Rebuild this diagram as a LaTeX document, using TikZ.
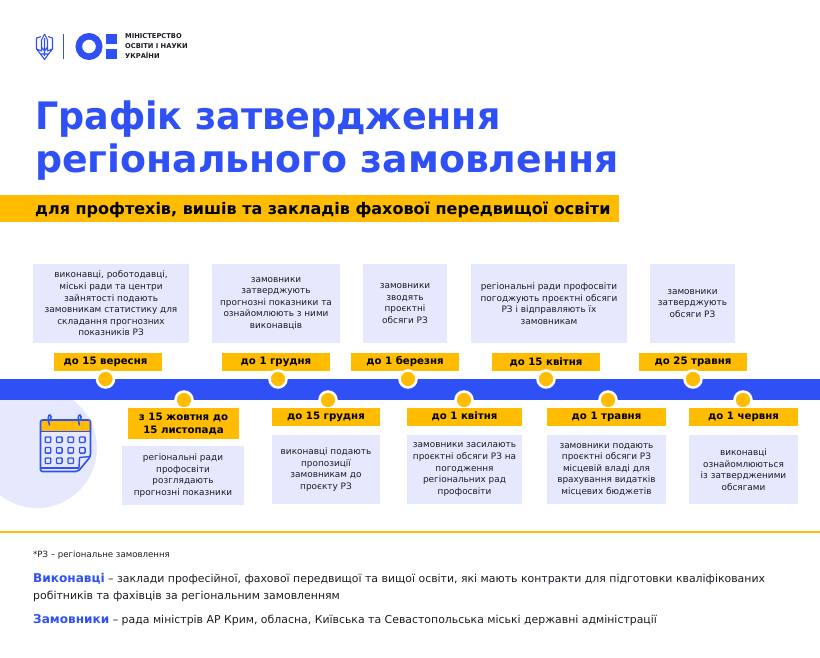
\documentclass[tikz,border=0pt]{standalone}
\usepackage{fontspec}
\setmainfont{DejaVu Sans}
\definecolor{minblue}{HTML}{2F50F5}
\definecolor{minyellow}{HTML}{FFBC00}
\definecolor{minlight}{HTML}{E6E9FD}
\definecolor{mintext}{HTML}{1C1C24}
\tikzset{
  infobox/.style={fill=minlight,inner sep=0pt,align=center,text=mintext,font=\fontsize{8.9}{11.6}\selectfont},
  datebox/.style={fill=minyellow,inner sep=0pt,align=center,text=black,minimum height=18,font=\fontsize{10.2}{13}\selectfont\bfseries},
  bardot/.style={circle,fill=minyellow,draw=white,line width=2.5pt,minimum size=17,inner sep=0pt},
  legendtext/.style={anchor=base west,inner sep=0pt,text=mintext,font=\fontsize{10.9}{14}\selectfont},
  calsquare/.style={draw=minblue,line width=1.3pt,rounded corners=0.8pt}
}
\begin{document}
\begin{tikzpicture}[x=1pt,y=-1pt]
  \useasboundingbox (0,0) rectangle (820,657);

  % Logo
  \draw[minblue,line width=1.1pt,line join=round] (44.5,34) -- (47.5,40) -- (47.5,51) -- (52.5,49) -- (52.5,38) -- (48,36.5) (44.5,34) -- (41.5,40) -- (41.5,51) -- (36.5,49) -- (36.5,38) -- (41,36.5) (36.5,49) -- (40.5,54) -- (44.5,59.5) -- (48.5,54) -- (52.5,49) (44.5,38) -- (44.5,56) (40.5,54) -- (48.5,54) (41.5,47) -- (44.5,51) -- (47.5,47);
  \draw[minblue,line width=0.7pt] (63.5,34) -- (63.5,59);
  \draw[minblue,line width=6.5pt] (89,46.5) circle (10.2);
  \fill[minblue] (106,34) rectangle (117,44);
  \fill[minblue] (106,49) rectangle (117,59);
  \node[anchor=west,inner sep=0pt,align=left,text=mintext,font=\fontsize{6.7}{9.9}\selectfont\bfseries] (logotext) at (125,46) {МІНІСТЕРСТВО\\ОСВІТИ І НАУКИ\\УКРАЇНИ};

  % Title
  \node[anchor=base west,inner sep=0pt,text=minblue,font=\fontsize{37.8}{50}\selectfont\bfseries] (titleone) at (35,129) {\scalebox{0.965}[1]{Графік затвердження}};
  \node[anchor=base west,inner sep=0pt,text=minblue,font=\fontsize{37.8}{50}\selectfont\bfseries] (titletwo) at (35,172) {регіонального замовлення};
  \fill[minyellow] (0,195) rectangle (619,222);
  \node[anchor=base west,inner sep=0pt,text=black,font=\fontsize{16}{18}\selectfont\bfseries] (subtitle) at (35,214) {для профтехів, вишів та закладів фахової передвищої освіти};

  % Circle with the calendar
  \fill[minlight] (37,448) circle (60);

  % Timeline bar
  \fill[minblue] (0,379) rectangle (820,399.5);

  % Calendar
  \fill[minyellow] (41,420.5) rectangle (90,431.5);
  \draw[minblue,line width=1.6pt,line join=round,rounded corners=2pt] (40.5,431.5) -- (40.5,420) -- (90.5,420) -- (90.5,456.5) -- (78,471.5) -- (40.5,471.5) -- cycle;
  \draw[minblue,line width=1.6pt] (40.5,431.5) -- (90.5,431.5);
  \draw[minblue,line width=1.4pt,line join=round] (90.5,456.5) -- (79.5,457.5) -- (79,468);
  \draw[minblue,line width=1.2pt] (40.5,468) -- (79,468);
  \draw[minblue,line width=1.5pt,line cap=round] (49.5,425) .. controls (47.5,419) and (48,414.5) .. (50,415) .. controls (51.5,415.5) and (51.5,418) .. (50.5,419);
  \draw[minblue,line width=1.5pt,line cap=round] (79.5,425) .. controls (77.5,419) and (78,414.5) .. (80,415) .. controls (81.5,415.5) and (81.5,418) .. (80.5,419);
  \foreach \calx in {48,59.3,70.7,82.3}
    \foreach \caly in {439.7,450.3}
      \draw[calsquare] (\calx-2.8,\caly-2.8) rectangle (\calx+2.8,\caly+2.8);
  \foreach \calx in {48,59.3,70.7}
    \draw[calsquare] (\calx-2.8,457.9) rectangle (\calx+2.8,463.5);

  % Top boxes
  \node[infobox,minimum width=156,minimum height=79] (boxa) at (111,303.5) {виконавці, роботодавці,\\міські ради та центри\\зайнятості подають\\замовникам статистику для\\складання прогнозних\\показників РЗ};
  \node[infobox,minimum width=128,minimum height=79] (boxb) at (276,303.5) {замовники\\затверджують\\прогнозні показники та\\ознайомлюють з ними\\виконавців};
  \node[infobox,minimum width=84,minimum height=79] (boxc) at (405,303.5) {замовники\\зводять\\проєктні\\обсяги РЗ};
  \node[infobox,minimum width=156,minimum height=79] (boxd) at (549,303.5) {регіональні ради профосвіти\\погоджують проєктні обсяги\\РЗ і відправляють їх\\замовникам};
  \node[infobox,minimum width=85,minimum height=79] (boxe) at (692.5,303.5) {замовники\\затверджують\\обсяги РЗ};

  % Top dates
  \node[datebox,minimum width=108] (datea) at (108,362) {\hspace*{-5pt}до 15 вересня};
  \node[datebox,minimum width=108] (dateb) at (276,362) {до 1 грудня};
  \node[datebox,minimum width=108] (datec) at (405,362) {до 1 березня};
  \node[datebox,minimum width=108] (dated) at (546,362) {до 15 квітня};
  \node[datebox,minimum width=108] (datee) at (693,362) {до 25 травня};

  % Dots above
  \node[bardot] (dota) at (105.5,379) {};
  \node[bardot] (dotb) at (278,379) {};
  \node[bardot] (dotc) at (408,379) {};
  \node[bardot] (dotd) at (546,379) {};
  \node[bardot] (dote) at (693,379) {};

  % Dots below
  \node[bardot] (dotf) at (184,400) {};
  \node[bardot] (dotg) at (328,400) {};
  \node[bardot] (doth) at (464,400) {};
  \node[bardot] (doti) at (608,400) {};
  \node[bardot] (dotj) at (743,400) {};

  % Bottom dates
  \node[datebox,minimum width=111,minimum height=31] (datef) at (183.5,423.5) {з 15 жовтня до\\15 листопада};
  \node[datebox,minimum width=108] (dateg) at (326,416.5) {до 15 грудня};
  \node[datebox,minimum width=115] (dateh) at (464.5,416.5) {до 1 квітня};
  \node[datebox,minimum width=119] (datei) at (606.5,416.5) {до 1 травня};
  \node[datebox,minimum width=109] (datej) at (743.5,416.5) {до 1 червня};

  % Bottom boxes
  \node[infobox,minimum width=122,minimum height=59] (boxf) at (183,475.5) {регіональні ради\\профосвіти\\розглядають\\прогнозні показники};
  \node[infobox,minimum width=108,minimum height=69] (boxg) at (326,469.5) {виконавці подають\\пропозиції\\замовникам до\\проєкту РЗ};
  \node[infobox,minimum width=115,minimum height=69] (boxh) at (464.5,469.5) {замовники засилають\\проєктні обсяги РЗ на\\погодження\\регіональних рад\\профосвіти};
  \node[infobox,minimum width=119,minimum height=69] (boxi) at (606.5,469.5) {замовники подають\\проєктні обсяги РЗ\\місцевій владі для\\врахування видатків\\місцевих бюджетів};
  \node[infobox,minimum width=109,minimum height=69] (boxj) at (743.5,469.5) {виконавці\\ознайомлюються\\із затвердженими\\обсягами};

  % Footer
  \draw[minyellow,line width=2.2pt] (0,532) -- (820,532);
  \node[legendtext,font=\fontsize{8.6}{11}\selectfont] (noterz) at (33,557) {*РЗ – регіональне замовлення};
  \node[legendtext] (noteone) at (33,582.5) {\textcolor{minblue}{\fontsize{12.1}{14}\selectfont\bfseries Виконавці} – заклади професійної, фахової передвищої та вищої освіти, які мають контракти для підготовки кваліфікованих};
  \node[legendtext] (notetwo) at (33,599) {робітників та фахівців за регіональним замовленням};
  \node[legendtext] (notethree) at (33,623) {\textcolor{minblue}{\fontsize{12.1}{14}\selectfont\bfseries Замовники} – рада міністрів АР Крим, обласна, Київська та Севастопольська міські державні адміністрації};
\end{tikzpicture}
\end{document}
